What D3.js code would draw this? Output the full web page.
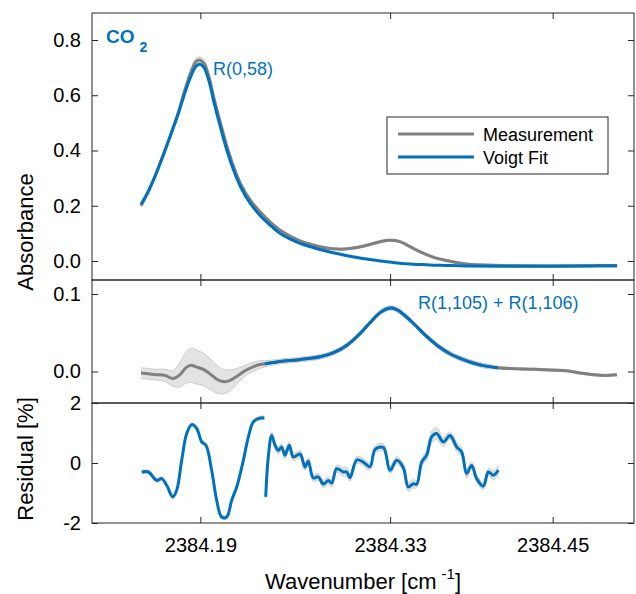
<!DOCTYPE html>
<html>
<head>
<meta charset="utf-8">
<script src="https://cdn.jsdelivr.net/npm/d3@7"></script>
<style>
  html, body { margin: 0; padding: 0; background: #fff; }
  svg { display: block; font-family: "Liberation Sans", Arial, Helvetica, sans-serif; }
</style>
</head>
<body>
<svg id="chart" width="636" height="594"></svg>
<script>
// ---------------- DATA ----------------
const xTicks = [2384.19, 2384.33, 2384.45];
const xTickLabels = ["2384.19", "2384.33", "2384.45"];
const topYTicks = [0.0, 0.2, 0.4, 0.6, 0.8];
const topYTickLabels = ["0.0", "0.2", "0.4", "0.6", "0.8"];
const midYTicks = [0.0, 0.1];
const midYTickLabels = ["0.0", "0.1"];
const resYTicks = [-2, 0, 2];
const resYTickLabels = ["-2", "0", "2"];

// Top panel: absorbance
const topWn = [2384.1462, 2384.1513, 2384.1572, 2384.1631, 2384.1683, 2384.1735, 2384.1786, 2384.1831,
  2384.1868, 2384.1897, 2384.1927, 2384.1964, 2384.2000, 2384.2045, 2384.2096, 2384.2148, 2384.2200,
  2384.2266, 2384.2340, 2384.2414, 2384.2487, 2384.2561, 2384.2635, 2384.2731, 2384.2820, 2384.2916,
  2384.3004, 2384.3115, 2384.3226, 2384.3299, 2384.3373, 2384.3447, 2384.3535, 2384.3617, 2384.3705,
  2384.3860, 2384.4111, 2384.4480, 2384.4775, 2384.4975];
const topMeas = [0.200, 0.248, 0.315, 0.390, 0.460, 0.535, 0.620, 0.685, 0.722, 0.727, 0.715, 0.665, 0.590,
  0.505, 0.415, 0.338, 0.276, 0.222, 0.178, 0.142, 0.112, 0.090, 0.073, 0.058, 0.048, 0.043, 0.045, 0.055,
  0.070, 0.075, 0.070, 0.052, 0.030, 0.014, 0.003, -0.011, -0.016, -0.018, -0.017, -0.017];
const topMeasErr = [0.004, 0.004, 0.004, 0.004, 0.004, 0.005, 0.007, 0.010, 0.012, 0.012, 0.012, 0.010, 0.007,
  0.005, 0.004, 0.004, 0.004, 0.004, 0.004, 0.004, 0.004, 0.004, 0.004, 0.004, 0.004, 0.004, 0.004, 0.004,
  0.004, 0.004, 0.004, 0.004, 0.004, 0.004, 0.004, 0.004, 0.004, 0.004, 0.004, 0.004];
const topFit = [0.205, 0.250, 0.315, 0.390, 0.460, 0.530, 0.610, 0.670, 0.705, 0.712, 0.700, 0.650, 0.575,
  0.490, 0.400, 0.325, 0.265, 0.210, 0.165, 0.130, 0.100, 0.080, 0.064, 0.049, 0.037, 0.026, 0.017, 0.008,
  0.000, -0.004, -0.008, -0.011, -0.013, -0.015, -0.016, -0.018, -0.019, -0.019, -0.018, -0.017];

// Middle panel: absorbance of the weak line pair
const midWn = [2384.1462, 2384.1513, 2384.1572, 2384.1639, 2384.1698, 2384.1749, 2384.1794, 2384.1831,
  2384.1868, 2384.1919, 2384.1971, 2384.2022, 2384.2067, 2384.2111, 2384.2170, 2384.2229, 2384.2288,
  2384.2340, 2384.2377, 2384.2487, 2384.2613, 2384.2709, 2384.2783, 2384.2879, 2384.2982, 2384.3078,
  2384.3152, 2384.3226, 2384.3277, 2384.3314, 2384.3358, 2384.3417, 2384.3484, 2384.3572, 2384.3653,
  2384.3742, 2384.3831, 2384.3912, 2384.4008, 2384.4096, 2384.4185, 2384.4355, 2384.4480, 2384.4606,
  2384.4701, 2384.4797, 2384.4886, 2384.4975];
const midMeas = [-0.002, -0.003, -0.004, -0.005, -0.009, -0.004, 0.005, 0.008, 0.006, 0.003, -0.003, -0.010,
  -0.013, -0.012, -0.006, 0.001, 0.006, 0.009, 0.010, 0.013, 0.015, 0.017, 0.019, 0.024, 0.034, 0.049,
  0.063, 0.076, 0.081, 0.082, 0.079, 0.071, 0.060, 0.045, 0.033, 0.023, 0.016, 0.011, 0.007, 0.005,
  0.004, 0.003, 0.002, 0.001, -0.002, -0.004, -0.005, -0.004];
const midMeasErr = [0.007, 0.007, 0.007, 0.008, 0.010, 0.016, 0.020, 0.022, 0.022, 0.021, 0.020, 0.018,
  0.016, 0.014, 0.010, 0.007, 0.006, 0.005, 0.004, 0.003, 0.003, 0.003, 0.003, 0.003, 0.003, 0.003,
  0.003, 0.003, 0.003, 0.003, 0.003, 0.003, 0.003, 0.003, 0.003, 0.003, 0.003, 0.003, 0.003, 0.002,
  0.0015, 0.0015, 0.0015, 0.0015, 0.0015, 0.0015, 0.0015, 0.0015];
const midFitWn = [2384.2377, 2384.2487, 2384.2613, 2384.2709, 2384.2783, 2384.2879, 2384.2982, 2384.3078,
  2384.3152, 2384.3226, 2384.3277, 2384.3314, 2384.3358, 2384.3417, 2384.3484, 2384.3572, 2384.3653,
  2384.3742, 2384.3831, 2384.3912, 2384.4008, 2384.4096];
const midFit = [0.010, 0.013, 0.015, 0.017, 0.019, 0.024, 0.034, 0.049, 0.063, 0.076, 0.081, 0.082, 0.079,
  0.071, 0.060, 0.045, 0.033, 0.023, 0.016, 0.011, 0.007, 0.005];

// Bottom panel: residual [%], two fitted windows
const res1Wn = [2384.1467, 2384.1516, 2384.1578, 2384.1614, 2384.1651, 2384.1696, 2384.1725, 2384.1762,
  2384.1799, 2384.1836, 2384.1873, 2384.1910, 2384.1941, 2384.1983, 2384.2020, 2384.2057, 2384.2094,
  2384.2131, 2384.2168, 2384.2217, 2384.2254, 2384.2290, 2384.2327, 2384.2372];
const res1 = [-0.30, -0.30, -0.58, -0.52, -0.74, -1.13, -0.91, 0.09, 0.98, 1.28, 1.15, 0.70, 0.59, -0.24,
  -1.24, -1.80, -1.80, -1.24, -0.80, 0.09, 0.87, 1.37, 1.48, 1.51];
const res2Wn = [2384.2382, 2384.2401, 2384.2426, 2384.2451, 2384.2475, 2384.2500, 2384.2524, 2384.2556,
  2384.2586, 2384.2635, 2384.2672, 2384.2696, 2384.2733, 2384.2770, 2384.2807, 2384.2844, 2384.2869,
  2384.2906, 2384.2955, 2384.2980, 2384.3004, 2384.3054, 2384.3102, 2384.3152, 2384.3189, 2384.3250,
  2384.3299, 2384.3349, 2384.3397, 2384.3434, 2384.3471, 2384.3496, 2384.3533, 2384.3570, 2384.3607,
  2384.3644, 2384.3693, 2384.3742, 2384.3792, 2384.3828, 2384.3865, 2384.3902, 2384.3939, 2384.3988,
  2384.4025, 2384.4062, 2384.4099];
const res2 = [-1.13, 0.20, 0.92, 0.59, 0.42, 0.53, 0.26, 0.59, 0.20, 0.30, -0.13, 0.06, -0.50, -0.46, -0.70,
  -0.58, -0.67, -0.19, -0.30, -0.30, -0.49, 0.10, 0.03, -0.12, 0.45, 0.52, -0.24, 0.09, -0.15, -0.80,
  -0.69, -0.71, 0.03, 0.26, 0.87, 0.98, 0.70, 0.92, 0.53, 0.37, -0.35, -0.08, -0.52, -0.77, -0.30,
  -0.41, -0.24];
const res2Err = [0.05, 0.10, 0.12, 0.12, 0.12, 0.12, 0.12, 0.12, 0.12, 0.12, 0.12, 0.12, 0.12, 0.12, 0.12,
  0.12, 0.12, 0.12, 0.15, 0.15, 0.12, 0.12, 0.12, 0.12, 0.12, 0.12, 0.12, 0.12, 0.12, 0.15, 0.15, 0.12,
  0.12, 0.15, 0.20, 0.20, 0.15, 0.12, 0.15, 0.15, 0.15, 0.12, 0.12, 0.12, 0.12, 0.15, 0.15];

// ---------------- LAYOUT ----------------
const BLUE = "#0072BD", GRAY = "#808080", BAND = "#e3e3e3", BANDEDGE = "#c4c4c4", AX = "#262626";
const left = 92, right = 634;
const panels = {
  top: { y0: 13, y1: 280, domain: [-0.0688, 0.8977] },
  mid: { y0: 280, y1: 403, domain: [-0.0406, 0.1181] },
  res: { y0: 403, y1: 523, domain: [-2, 2] }
};

const svg = d3.select("#chart");
const x = d3.scaleLinear().domain([2384.11, 2384.51]).range([left, right]);

function yScale(p) { return d3.scaleLinear().domain(p.domain).range([p.y1, p.y0]); }
const yTop = yScale(panels.top), yMid = yScale(panels.mid), yRes = yScale(panels.res);

function zip(wn, v, e) { return wn.map((w, i) => ({ w, v: v[i], e: e ? e[i] : 0 })); }

function drawBand(data, y) {
  const area = d3.area().x(d => x(d.w)).y0(d => y(d.v - d.e)).y1(d => y(d.v + d.e)).curve(d3.curveCatmullRom);
  svg.append("path").attr("d", area(data)).attr("fill", BAND).attr("stroke", "none");
  ["-", "+"].forEach(s => {
    const ln = d3.line().x(d => x(d.w)).y(d => y(s === "+" ? d.v + d.e : d.v - d.e)).curve(d3.curveCatmullRom);
    svg.append("path").attr("d", ln(data)).attr("fill", "none").attr("stroke", BANDEDGE).attr("stroke-width", 0.8);
  });
}
function drawLine(data, y, color, w) {
  const ln = d3.line().x(d => x(d.w)).y(d => y(d.v)).curve(d3.curveCatmullRom);
  svg.append("path").attr("d", ln(data)).attr("fill", "none").attr("stroke", color)
    .attr("stroke-width", w).attr("stroke-linejoin", "round").attr("stroke-linecap", "butt");
}

// ---- top panel
const topMeasData = zip(topWn, topMeas, topMeasErr);
drawBand(topMeasData, yTop);
drawLine(topMeasData, yTop, GRAY, 3);
drawLine(zip(topWn, topFit), yTop, BLUE, 3);

// ---- middle panel
const midMeasData = zip(midWn, midMeas, midMeasErr);
drawBand(midMeasData, yMid);
drawLine(midMeasData, yMid, GRAY, 3);
drawLine(zip(midFitWn, midFit), yMid, BLUE, 3);

// ---- residual panel
const r1 = zip(res1Wn, res1, res1.map(() => 0.06));
const r2 = zip(res2Wn, res2, res2Err);
drawBand(r1, yRes);
drawBand(r2, yRes);
drawLine(r1, yRes, BLUE, 3);
drawLine(r2, yRes, BLUE, 3);

// ---------------- AXES ----------------
function frame(p, y, yt, ytl) {
  const g = svg.append("g");
  const styleAxis = sel => {
    sel.select(".domain").remove();
    sel.selectAll(".tick line").attr("stroke", AX).attr("stroke-width", 1);
    sel.selectAll(".tick text").attr("fill", "#000").style("font-size", "20px")
      .style("font-family", "'Liberation Sans', Arial, Helvetica, sans-serif");
  };
  g.append("g").attr("transform", `translate(${left},0)`)
    .call(d3.axisLeft(y).tickValues(yt).tickFormat((d, i) => ytl[i]).tickSize(-6).tickPadding(11)).call(styleAxis);
  g.append("g").attr("transform", `translate(${right},0)`)
    .call(d3.axisRight(y).tickValues(yt).tickFormat("").tickSize(-6)).call(styleAxis);
  g.append("g").attr("transform", `translate(0,${p.y0})`)
    .call(d3.axisTop(x).tickValues(xTicks).tickFormat("").tickSize(-6)).call(styleAxis);
  g.append("g").attr("transform", `translate(0,${p.y1})`)
    .call(d3.axisBottom(x).tickValues(xTicks).tickFormat((d, i) => p === panels.res ? xTickLabels[i] : "")
      .tickSize(-6).tickPadding(15)).call(styleAxis);
  g.append("rect").attr("x", left).attr("y", p.y0).attr("width", right - left).attr("height", p.y1 - p.y0)
    .attr("fill", "none").attr("stroke", AX).attr("stroke-width", 1);
}
frame(panels.top, yTop, topYTicks, topYTickLabels);
frame(panels.mid, yMid, midYTicks, midYTickLabels);
frame(panels.res, yRes, resYTicks, resYTickLabels);

// ---------------- LABELS ----------------
svg.append("text").attr("transform", "translate(33,232) rotate(-90)").attr("text-anchor", "middle")
  .style("font-size", "22px").attr("fill", "#000").text("Absorbance");
svg.append("text").attr("transform", "translate(33,459) rotate(-90)").attr("text-anchor", "middle")
  .style("font-size", "22px").attr("fill", "#000").text("Residual [%]");

const xl = svg.append("text").attr("x", 363).attr("y", 589).attr("text-anchor", "middle")
  .style("font-size", "22px").attr("fill", "#000");
xl.append("tspan").text("Wavenumber [cm");
xl.append("tspan").attr("dx", 5).attr("dy", -10).style("font-size", "15px").text("-1");
xl.append("tspan").attr("dy", 10).text("]");

const co2 = svg.append("text").attr("x", 106).attr("y", 43).attr("fill", BLUE)
  .style("font-size", "19px").style("font-weight", "bold");
co2.append("tspan").text("CO");
co2.append("tspan").attr("dx", 5).attr("dy", 9).style("font-size", "14px").text("2");

svg.append("text").attr("x", 213).attr("y", 75).attr("fill", BLUE).style("font-size", "18px").text("R(0,58)");
svg.append("text").attr("x", 418).attr("y", 309).attr("fill", BLUE).style("font-size", "18px").text("R(1,105) + R(1,106)");

// ---------------- LEGEND ----------------
const lg = svg.append("g");
lg.append("rect").attr("x", 387).attr("y", 117).attr("width", 221).attr("height", 57)
  .attr("fill", "#fff").attr("stroke", AX).attr("stroke-width", 1);
[["Measurement", GRAY, 134], ["Voigt Fit", BLUE, 157]].forEach(([t, c, yy]) => {
  lg.append("line").attr("x1", 398).attr("x2", 474).attr("y1", yy).attr("y2", yy)
    .attr("stroke", c).attr("stroke-width", 3);
  lg.append("text").attr("x", 483).attr("y", yy + 6.5).style("font-size", "18px").attr("fill", "#000").text(t);
});
</script>
</body>
</html>
